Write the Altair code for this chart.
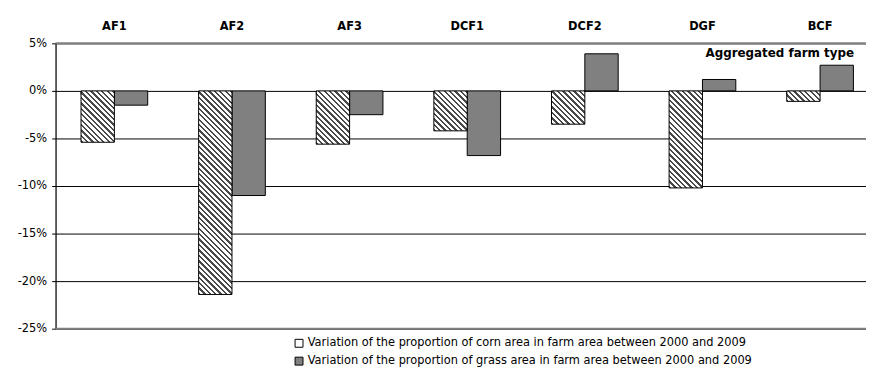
import altair as alt
import pandas as pd

# ---------------- data ----------------
categories = ["AF1", "AF2", "AF3", "DCF1", "DCF2", "DGF", "BCF"]
corn_values = [-5.4, -21.4, -5.6, -4.2, -3.5, -10.2, -1.1]
grass_values = [-1.5, -11.0, -2.5, -6.8, 3.9, 1.2, 2.7]
series_names = [
    "Variation of the proportion of corn area in farm area between 2000 and 2009",
    "Variation of the proportion of grass area in farm area between 2000 and 2009",
]
y_ticks = [5, 0, -5, -10, -15, -20, -25]
border_values = [5, -25]
axis_title = ["Aggregated farm type"]

rows = []
for c, v in zip(categories, corn_values):
    rows.append({"cat": c, "series": series_names[0], "value": v})
for c, v in zip(categories, grass_values):
    rows.append({"cat": c, "series": series_names[1], "value": v})
df = pd.DataFrame(rows)

# ---------------- layout ----------------
PLOT_W = 818
PLOT_H = 288
X_RANGE = 831
PAD_INNER = 0.433
Y_MIN, Y_MAX = -25, 5
px_per_unit = PLOT_H / (Y_MAX - Y_MIN)
bar_w = X_RANGE / len(categories) * (1 - PAD_INNER) / 2
FONT = "DejaVu Sans"


def hatch(h, w, period=5.5, dark=2.4, c_dark="#4a4a4a", c_light="#ffffff"):
    """Diagonal stripes as a hard-stop linear gradient in bbox units."""
    total = w + h
    s = (w + h) / (w * w + h * h)
    stops = []
    pos = 0.0
    while pos < total:
        a = pos / total
        b = min((pos + dark) / total, 1.0)
        c = min((pos + period) / total, 1.0)
        stops += [
            {"offset": a, "color": c_dark},
            {"offset": b, "color": c_dark},
            {"offset": b, "color": c_light},
            {"offset": c, "color": c_light},
        ]
        pos += period
    return {
        "gradient": "linear",
        "x1": 0,
        "y1": 1,
        "x2": s * w,
        "y2": 1 - s * h,
        "stops": stops,
    }


x_scale = alt.Scale(range=[0, X_RANGE], paddingInner=PAD_INNER, paddingOuter=PAD_INNER / 2)
xoff = alt.XOffset("series:N", sort=series_names, scale=alt.Scale(domain=series_names))
y_scale = alt.Scale(domain=[Y_MIN, Y_MAX], nice=False, zero=False)
y_axis = alt.Axis(
    values=y_ticks,
    labelExpr="datum.value + '%'",
    title=None,
    grid=True,
    gridColor="#000000",
    gridWidth=1,
    domainColor="#000000",
    domainWidth=1.2,
    tickColor="#000000",
    tickSize=4,
    labelPadding=5,
    labelFont=FONT,
    labelFontSize=11.5,
    labelColor="#000000",
)
y_enc = alt.Y("value:Q", scale=y_scale, axis=y_axis)

top_axis = alt.Axis(
    orient="top",
    title=None,
    ticks=False,
    tickSize=0,
    domain=False,
    grid=False,
    labelFont=FONT,
    labelFontWeight="bold",
    labelFontSize=11.5,
    labelColor="#000000",
    labelPadding=12,
    labelAngle=0,
)

layers = []

# corn bars, hatched, one layer per category (gradient depends on bar size)
for i, (c, v) in enumerate(zip(categories, corn_values)):
    h = abs(v) * px_per_unit
    layer = alt.Chart(df).transform_filter(
        (alt.datum.cat == c) & (alt.datum.series == series_names[0])
    ).mark_bar(fill=hatch(h, bar_w), stroke="#000000", strokeWidth=1).encode(
        x=alt.X("cat:N", sort=categories, scale=x_scale, axis=None),
        xOffset=xoff,
        y=y_enc,
    )
    layers.append(layer)

# grass bars
grass = alt.Chart(df).transform_filter(
    alt.datum.series == series_names[1]
).mark_bar(stroke="#000000", strokeWidth=1).encode(
    x=alt.X("cat:N", sort=categories, scale=x_scale, axis=top_axis),
    xOffset=xoff,
    y=y_enc,
    fill=alt.Fill(
        "series:N",
        scale=alt.Scale(domain=series_names, range=["#ffffff", "#808080"]),
        legend=alt.Legend(
            orient="none",
            legendX=240,
            legendY=297,
            direction="vertical",
            title=None,
            symbolType="square",
            symbolSize=64,
            symbolStrokeColor="#000000",
            symbolStrokeWidth=1,
            labelFont=FONT,
            labelFontSize=11.5,
            labelColor="#000000",
            labelOffset=3,
            rowPadding=5,
            padding=0,
            labelLimit=0,
        ),
    ),
)

# category-boundary ticks hanging below the 0% line
ticks_layer = alt.Chart(pd.DataFrame({"cat": categories})).mark_tick(
    orient="vertical", size=4, thickness=1, color="#000000", yOffset=2
).encode(
    x=alt.X("cat:N", sort=categories, scale=x_scale, bandPosition=0, axis=None),
    y=alt.Y(datum=0, scale=y_scale, axis=y_axis),
)

# border lines at 5% and -25%
borders = alt.Chart(pd.DataFrame({"value": border_values})).mark_rule(
    color="#808080", strokeWidth=2
).encode(y=y_enc)

title_text = alt.Chart(pd.DataFrame({"t": axis_title})).mark_text(
    align="left", baseline="middle", font=FONT, fontWeight="bold", fontSize=12, color="#000000"
).encode(text="t:N", x=alt.value(656), y=alt.value(10))

chart = alt.layer(grass, *layers, ticks_layer, borders, title_text).resolve_axis(
    x="independent"
).properties(
    width=PLOT_W,
    height=PLOT_H,
    autosize=alt.AutoSizeParams(type="none"),
    padding={"left": 48, "top": 34, "right": 0, "bottom": 37},
).configure_view(stroke=None).configure(background="white")

chart.save("out.html", embed_options={"renderer": "svg", "actions": False})
